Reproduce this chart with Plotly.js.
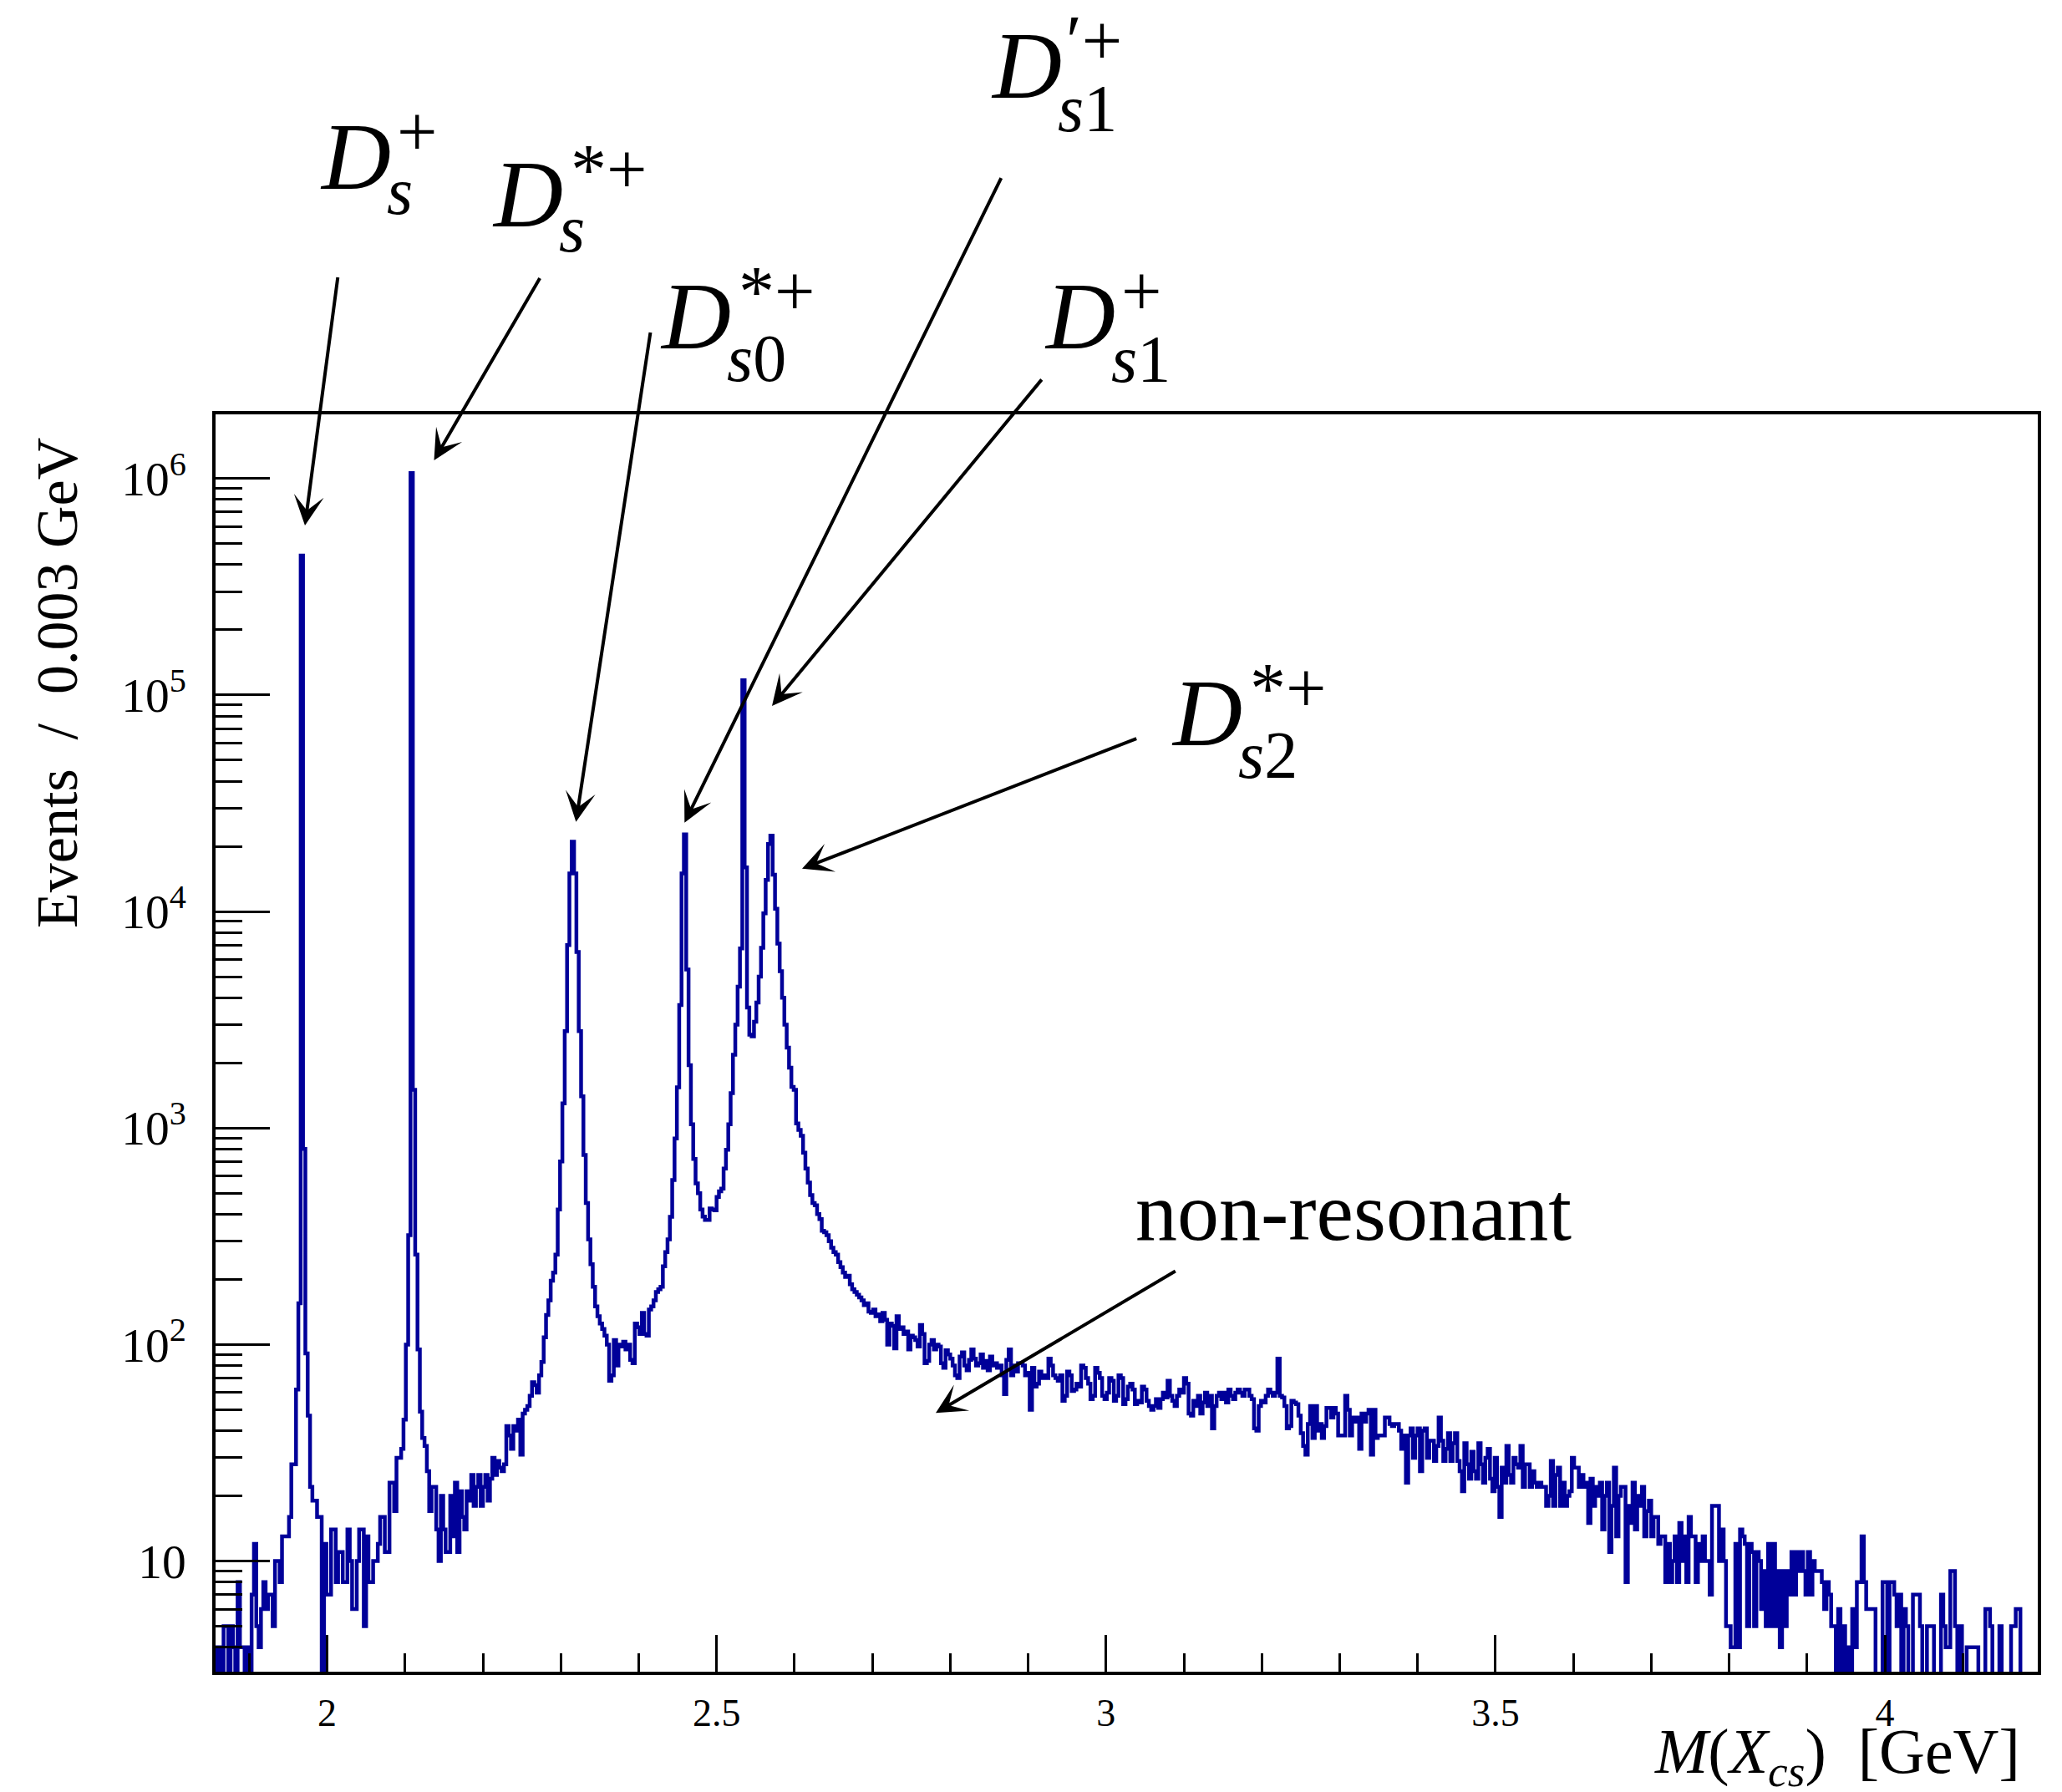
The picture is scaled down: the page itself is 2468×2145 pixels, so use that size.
<!DOCTYPE html>
<html>
<head>
<meta charset="utf-8">
<script src="https://cdn.plot.ly/plotly-3.0.1.min.js"></script>
<style>html,body{margin:0;padding:0;background:#fff;}</style>
</head>
<body>
<div id="chart" style="width:2468px;height:2145px;"></div>
<script>
// ---------------- data ----------------
// histogram binning (GeV): first bin low edge and bin width
const binLow = 1.855;
const binWidth = 0.003;
// events per 0.003 GeV bin (1 = bin falls below the visible axis range)
const counts = [
  4,2,4,1,5,5,3,5,4,2,
  8,4,4,3,4,2,7,12,5,4,
  6,8,6,7,7,5,10,10,8,13,
  13,13,16,28,28,62,155,440000,800,91,
  47,22,19,19,16,16,1,12,7,7,
  14,14,8,11,11,8,8,14,10,6,
  6,10,14,14,5,13,8,8,10,10,
  12,16,16,11,11,23,23,17,30,30,
  33,45,100,320,1060000,1500,260,95,49,37,
  34,26,17,22,22,14,10,20,14,11,
  11,20,13,23,11,21,16,14,21,19,
  25,18,22,25,18,22,25,19,24,30,
  25,29,27,26,28,42,38,33,42,40,
  45,31,48,50,52,58,67,65,60,72,
  83,108,137,160,197,215,260,420,700,1300,
  2800,7000,15000,21000,15000,6500,2800,1400,750,450,
  306,235,185,150,135,125,118,110,100,68,
  72,105,80,100,98,103,95,100,85,82,
  125,120,112,140,112,110,145,150,160,175,
  180,185,230,267,306,389,575,895,1540,3700,
  15000,22700,5400,1950,1040,720,555,500,420,390,
  376,376,425,420,417,480,510,525,650,794,
  1040,1450,2180,3000,4500,6750,117000,16000,3600,2700,
  2650,3100,3800,5000,6800,9800,14000,20500,22400,14800,
  10300,7100,5300,4000,3000,2350,1900,1550,1500,1050,
  980,920,770,650,560,490,450,440,400,380,
  335,330,320,300,280,267,260,240,228,215,
  205,208,190,180,175,170,165,160,152,155,
  142,140,145,135,138,128,140,130,100,125,
  122,96,135,118,120,112,115,95,110,108,
  105,98,123,112,82,84,100,105,95,100,
  98,82,78,94,90,86,80,72,70,88,
  92,80,76,85,95,86,80,82,90,78,
  84,76,88,80,82,78,80,72,59,85,
  95,72,80,75,82,82,80,72,74,50,
  78,64,66,75,70,72,70,86,80,72,
  70,68,72,55,58,75,72,61,62,66,
  64,80,78,70,66,56,58,78,74,70,
  58,56,60,70,68,55,58,72,70,53,
  56,64,66,62,53,55,54,64,62,55,
  52,50,52,56,51,56,60,57,68,58,
  55,52,58,62,60,70,66,48,47,55,
  52,58,48,54,60,52,58,41,52,58,
  60,56,60,54,62,58,56,60,62,60,
  58,62,62,58,56,41,40,52,55,54,
  58,62,60,58,60,86,58,57,52,41,
  42,55,54,53,47,39,34,31,43,52,
  37,52,40,43,37,42,51,51,46,51,
  48,38,38,38,58,50,38,46,44,46,
  33,48,44,48,50,31,50,37,38,38,
  38,46,46,43,42,43,43,40,33,38,
  23,38,41,30,38,41,26,40,41,30,
  36,36,29,34,46,36,29,33,39,29,
  35,39,29,26,21,35,28,24,32,26,
  24,35,28,23,30,33,24,21,30,22,
  16,27,23,34,25,23,30,28,27,34,
  22,28,28,22,26,23,22,23,22,22,
  18,20,29,18,25,27,18,23,18,20,
  21,30,27,27,22,25,22,23,15,24,
  18,22,20,23,14,20,23,11,18,27,
  13,20,22,22,8,18,15,23,14,20,
  18,22,13,17,19,13,16,16,12,13,
  13,8,12,8,10,13,8,15,10,13,
  8,16,13,13,8,12,10,13,10,10,
  7,18,18,18,10,14,10,5,5,4,
  4,12,4,14,13,12,5,12,11,5,
  11,10,6,9,5,12,5,12,5,9,
  4,9,5,9,7,11,7,11,9,11,
  9,7,11,7,10,9,9,9,8,6,
  8,7,5,5,1,6,1,5,1,4,
  1,6,4,8,8,13,8,6,6,6,
  6,1,1,1,8,8,1,8,8,7,
  5,7,1,6,5,1,1,7,7,7,
  5,1,1,5,5,5,1,1,1,7,
  5,4,4,9,9,5,1,5,1,1,
  4,4,4,4,4,1,1,1,6,6,
  5,1,1,1,5,1,1,1,1,5,
  5,6,6,1,1,1,1,1,1,1,
  1
];
const xTitle = '<i>M</i>(<i>X</i><sub><i>cs</i></sub>)  [GeV]';
const yTitle = 'Events  /  0.003 GeV';
// peak labels: [main, subscript, superscript]
const peakLabels = [
  ['D', '<i>s</i>', '+'],
  ['D', '<i>s</i>', '*+'],
  ['D', '<i>s</i>0', '*+'],
  ['D', '<i>s</i>1', '\u2032+'],
  ['D', '<i>s</i>1', '+'],
  ['D', '<i>s</i>2', '*+']
];
const bkgLabel = 'non-resonant';

// ---------------- layout geometry (pixels) ----------------
const W = 2468, H = 2145;
const PL = 258, PR = 2439, PT = 496, PB = 2001.5;
const fontFam = 'Liberation Serif, Times New Roman, serif';

// step-histogram path from bin edges
const xs = [], ys = [];
for (let i = 0; i < counts.length; i++) {
  xs.push(binLow + i * binWidth);
  ys.push(counts[i]);
}
xs.push(binLow + counts.length * binWidth);
ys.push(counts[counts.length - 1]);

function px(x) { return (x - PL) / (PR - PL); }
function py(y) { return (PB - y) / (PB - PT); }

// label placement: D left, D baseline, subscript baseline offset
const labelPos = [
  {x: 383,  base: 226, sub: 30},
  {x: 589,  base: 271, sub: 30},
  {x: 790,  base: 417, sub: 39},
  {x: 1186, base: 117, sub: 40},
  {x: 1250, base: 417, sub: 40},
  {x: 1402, base: 892, sub: 39}
];
const supDx = [92, 94, 94, 90, 92, 94];

const annotations = [];
function textAnn(text, xLeft, baseline, fs) {
  const cy = baseline - 0.3375 * fs;
  annotations.push({
    xref: 'paper', yref: 'paper', x: px(xLeft), y: py(cy),
    xanchor: 'left', yanchor: 'middle', showarrow: false,
    text: text, font: {family: fontFam, size: fs, color: '#000'},
    borderpad: 0, borderwidth: 0
  });
}
peakLabels.forEach((lab, i) => {
  const p = labelPos[i];
  textAnn('<i>' + lab[0] + '</i>', p.x, p.base, 115);
  textAnn(lab[1], p.x + 80, p.base + p.sub, 80);
  textAnn(lab[2], p.x + supDx[i], p.base - 39, 86);
});
textAnn(bkgLabel, 1359, 1485, 100);

// arrows: head (x,y) and tail (x,y) in pixels
const arrows = [
  [365, 629, 404.5, 330.5],
  [519.5, 551, 647, 331.5],
  [689.4, 984, 778.7, 396.7],
  [819.3, 985, 1199, 211.7],
  [924, 845, 1248, 453],
  [960, 1040, 1361.7, 883.7],
  [1120, 1691.7, 1408.3, 1521]
];
arrows.forEach(a => {
  annotations.push({
    xref: 'paper', yref: 'paper', x: px(a[0]), y: py(a[1]),
    ax: a[2] - a[0], ay: a[3] - a[1], axref: 'pixel', ayref: 'pixel',
    text: '', showarrow: true, arrowhead: 3, arrowsize: 1.5, arrowwidth: 4,
    arrowcolor: '#000', standoff: 0
  });
});

// axis titles
annotations.push({
  xref: 'paper', yref: 'paper', x: px(2420), y: py(2128 - 0.3375 * 76),
  xanchor: 'right', yanchor: 'middle', showarrow: false, text: xTitle,
  font: {family: fontFam, size: 76, color: '#000'}
});
annotations.push({
  xref: 'paper', yref: 'paper', x: px(69), y: py(818),
  xanchor: 'center', yanchor: 'middle', showarrow: false, text: yTitle,
  textangle: -90, font: {family: fontFam, size: 70, color: '#000'}
});

const trace = {
  x: xs, y: ys, type: 'scatter', mode: 'lines',
  line: {shape: 'hv', color: '#000099', width: 4.5},
  hoverinfo: 'skip'
};

const layout = {
  width: W, height: H,
  margin: {l: PL, r: W - PR, t: PT, b: H - PB, pad: 0},
  paper_bgcolor: '#fff', plot_bgcolor: '#fff',
  showlegend: false,
  font: {family: fontFam, color: '#000'},
  xaxis: {
    range: [1.8567, 4.1963], tick0: 0, dtick: 0.5,
    ticks: 'inside', ticklen: 44, tickwidth: 3, tickcolor: '#000',
    ticklabelstandoff: 6,
    showline: true, linewidth: 4, linecolor: '#000', mirror: true,
    showgrid: false, zeroline: false,
    tickfont: {family: fontFam, size: 46, color: '#000'},
    minor: {dtick: 0.1, ticks: 'inside', ticklen: 22, tickwidth: 3, tickcolor: '#000', showgrid: false}
  },
  yaxis: {
    type: 'log', range: [0.489, 6.296], dtick: 1, exponentformat: 'power',
    ticks: 'inside', ticklen: 65, tickwidth: 3, tickcolor: '#000',
    ticklabelstandoff: 22,
    showline: true, linewidth: 4, linecolor: '#000', mirror: true,
    showgrid: false, zeroline: false,
    tickfont: {family: fontFam, size: 46, color: '#000'},
    minor: {dtick: 'D1', ticks: 'inside', ticklen: 32, tickwidth: 3, tickcolor: '#000', showgrid: false}
  },
  annotations: annotations
};

Plotly.newPlot('chart', [trace], layout, {staticPlot: true, displayModeBar: false});
</script>
</body>
</html>
